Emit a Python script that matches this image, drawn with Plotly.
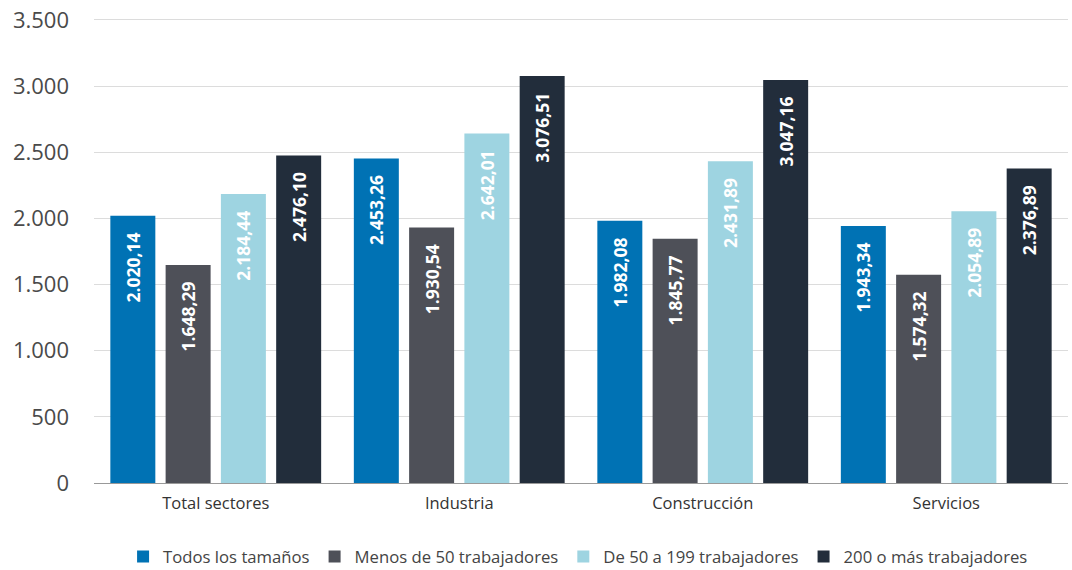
import plotly.graph_objects as go

sectores = ["Total sectores", "Industria", "Construcción", "Servicios"]
series_names = ["Todos los tamaños", "Menos de 50 trabajadores",
                "De 50 a 199 trabajadores", "200 o más trabajadores"]
todos = [2020.14, 2453.26, 1982.08, 1943.34]
menos_50 = [1648.29, 1930.54, 1845.77, 1574.32]
de_50_199 = [2184.44, 2642.01, 2431.89, 2054.89]
mas_200 = [2476.10, 3076.51, 3047.16, 2376.89]
colors = ["#0072b4", "#4e5058", "#9ed4e1", "#222d3b"]

fig = go.Figure()
for name, vals, col in zip(series_names, [todos, menos_50, de_50_199, mas_200], colors):
    fig.add_trace(go.Bar(
        x=sectores, y=vals, name=name, marker_color=col, marker_line_width=0,
        texttemplate="%{y:,.2f}\u00a0\u00a0\u00a0", textposition="inside", insidetextanchor="end",
        textangle=-90, textfont=dict(family="Open Sans", size=17.5, color="white", weight="bold"),
    ))

fig.update_layout(
    width=1072, height=570,
    separators=",.",
    barmode="group", bargap=0.092, bargroupgap=0.186,
    plot_bgcolor="white", paper_bgcolor="white",
    font=dict(family="Open Sans", color="#444444"),
    margin=dict(l=94, r=4, t=18, b=87, autoexpand=False),
    showlegend=True,
    legend=dict(orientation="h", x=0.497, xanchor="center", y=-0.121, yanchor="top",
                font=dict(size=16.7, color="#444444"), traceorder="normal",
                itemwidth=30, itemsizing="constant"),
    uniformtext=dict(mode="show", minsize=10),
)
# range a bit above 3500 so the top gridline is not clipped away
fig.update_yaxes(range=[0, 3515], tickvals=[0, 500, 1000, 1500, 2000, 2500, 3000, 3500],
                 tickformat=",d", automargin=False,
                 showgrid=True, gridcolor="#dcdcdc", gridwidth=1,
                 zeroline=True, zerolinecolor="#999999", zerolinewidth=1,
                 tickfont=dict(size=22, color="#4a4a4a"), ticklabeloverflow="allow",
                 ticks="", ticklabelstandoff=24)
fig.update_xaxes(showline=True, linecolor="#999999", linewidth=1, automargin=False,
                 ticks="", ticklabelstandoff=5, tickfont=dict(size=16.5, color="#333333"))

# drop the default 8px body margin so the figure sits at the page corner
fig.write_html("out.html", config={"displayModeBar": False},
               post_script="document.body.style.margin='0px';")
